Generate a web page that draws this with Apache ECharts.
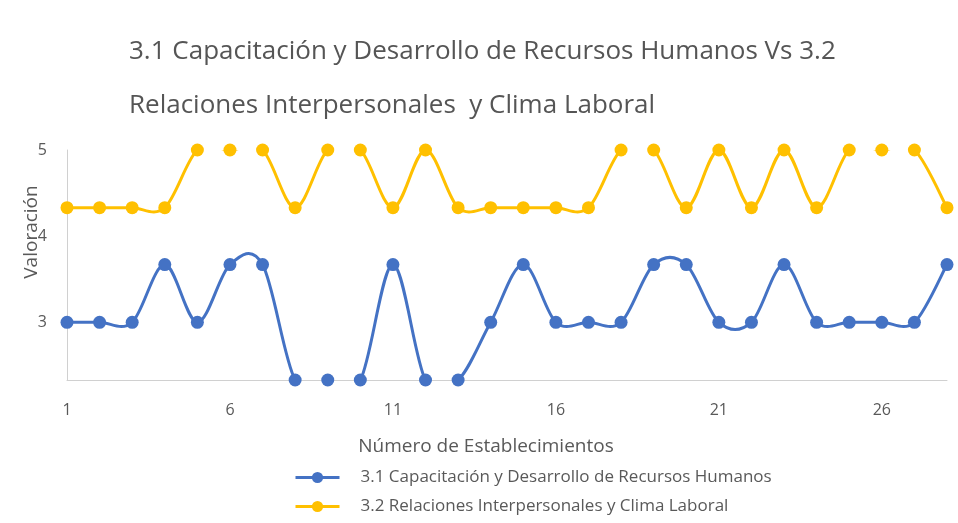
<!DOCTYPE html>
<html>
<head>
<meta charset="utf-8">
<script src="https://cdn.jsdelivr.net/npm/echarts@6/dist/echarts.min.js"></script>
<style>
  html, body { margin: 0; padding: 0; background: #fff; }
  #chart { width: 958px; height: 523px; }
</style>
</head>
<body>
<div id="chart"></div>
<script>
// establishments 1..28
var establecimientos = ["1", "2", "3", "4", "5", "6", "7", "8", "9", "10", "11", "12", "13", "14",
  "15", "16", "17", "18", "19", "20", "21", "22", "23", "24", "25", "26", "27", "28"];

var capacitacion = [3, 3, 3, 3.67, 3, 3.67, 3.67, 2.33, 2.33, 2.33, 3.67, 2.33, 2.33, 3,
  3.67, 3, 3, 3, 3.67, 3.67, 3, 3, 3.67, 3, 3, 3, 3, 3.67];
var relaciones = [4.33, 4.33, 4.33, 4.33, 5, 5, 5, 4.33, 5, 5, 4.33, 5, 4.33, 4.33,
  4.33, 4.33, 4.33, 5, 5, 4.33, 5, 4.33, 5, 4.33, 5, 5, 5, 4.33];

var yTicks = [3, 4, 5];

var serieNames = [
  "3.1 Capacitación y Desarrollo de Recursos Humanos",
  "3.2 Relaciones Interpersonales y Clima Laboral"
];
var colors = ["#4472C4", "#FFC000"];

// Excel-like smoothed segment (catmull-rom), clipped to the plot area
function smoothRender(values) {
  return function (params, api) {
    var i = params.dataIndex;
    if (i >= values.length - 1) return null;
    var pt = function (k) {
      k = Math.max(0, Math.min(values.length - 1, k));
      return api.coord([k, values[k]]);
    };
    var p0 = pt(i - 1), p1 = pt(i), p2 = pt(i + 1), p3 = pt(i + 2);
    var t = 1 / 6;
    var cs = params.coordSys;
    return {
      type: "bezierCurve",
      shape: {
        x1: p1[0], y1: p1[1], x2: p2[0], y2: p2[1],
        cpx1: p1[0] + (p2[0] - p0[0]) * t, cpy1: p1[1] + (p2[1] - p0[1]) * t,
        cpx2: p2[0] - (p3[0] - p1[0]) * t, cpy2: p2[1] - (p3[1] - p1[1]) * t
      },
      style: { stroke: api.visual("color"), lineWidth: 3, fill: null },
      clipPath: { type: "rect", shape: { x: cs.x, y: cs.y, width: cs.width, height: cs.height } }
    };
  };
}

function pairs(values) {
  return values.map(function (v, i) { return [i, v]; });
}

var chart = echarts.init(document.getElementById("chart"));
var option = {
  backgroundColor: "#fff",
  textStyle: { fontFamily: "'Open Sans', sans-serif" },
  title: {
    text: "3.1 Capacitación y Desarrollo de Recursos Humanos Vs 3.2\nRelaciones Interpersonales  y Clima Laboral",
    left: 124,
    top: 20,
    textStyle: { fontSize: 26, fontWeight: "normal", color: "#555555", lineHeight: 54 }
  },
  legend: {
    orient: "vertical",
    left: 289,
    top: 464,
    itemGap: 12,
    itemWidth: 44,
    itemHeight: 14,
    textStyle: { fontSize: 17, color: "#595959", padding: [0, 0, 0, 16] },
    data: [
      { name: serieNames[0], lineStyle: { opacity: 1, width: 3 } },
      { name: serieNames[1], lineStyle: { opacity: 1, width: 3 } }
    ]
  },
  grid: { left: 67, right: 11, top: 150, bottom: 143 },
  xAxis: {
    type: "category",
    data: establecimientos,
    boundaryGap: false,
    name: "Número de Establecimientos",
    nameLocation: "middle",
    nameGap: 57,
    nameTextStyle: { fontSize: 19, color: "#595959", padding: [0, 42, 0, 0] },
    axisLine: { lineStyle: { color: "#d0d0d0" } },
    axisTick: { show: false },
    axisLabel: { interval: 4, margin: 22, fontSize: 16, color: "#595959" }
  },
  yAxis: {
    type: "value",
    min: 2.33,
    max: 5,
    name: "Valoración",
    nameLocation: "middle",
    nameGap: 26,
    nameMoveOverlap: false,
    nameTextStyle: { fontSize: 19, color: "#595959", padding: [0, 0, 0, 66] },
    axisLine: { show: true, lineStyle: { color: "#d0d0d0" } },
    axisTick: { show: false },
    splitLine: { show: false },
    axisLabel: { margin: 20, fontSize: 16, color: "#595959", customValues: yTicks }
  },
  series: [
    {
      name: serieNames[0],
      type: "line",
      data: capacitacion,
      symbol: "circle",
      symbolSize: 13,
      color: colors[0],
      lineStyle: { width: 3, opacity: 0 },
      clip: false,
      z: 3
    },
    {
      name: serieNames[1],
      type: "line",
      data: relaciones,
      symbol: "circle",
      symbolSize: 13,
      color: colors[1],
      lineStyle: { width: 3, opacity: 0 },
      clip: false,
      z: 3
    },
    {
      name: serieNames[0],
      type: "custom",
      data: pairs(capacitacion),
      encode: { x: 0, y: 1 },
      color: colors[0],
      renderItem: smoothRender(capacitacion),
      z: 2
    },
    {
      name: serieNames[1],
      type: "custom",
      data: pairs(relaciones),
      encode: { x: 0, y: 1 },
      color: colors[1],
      renderItem: smoothRender(relaciones),
      z: 2
    }
  ]
};
chart.setOption(option);
</script>
</body>
</html>
